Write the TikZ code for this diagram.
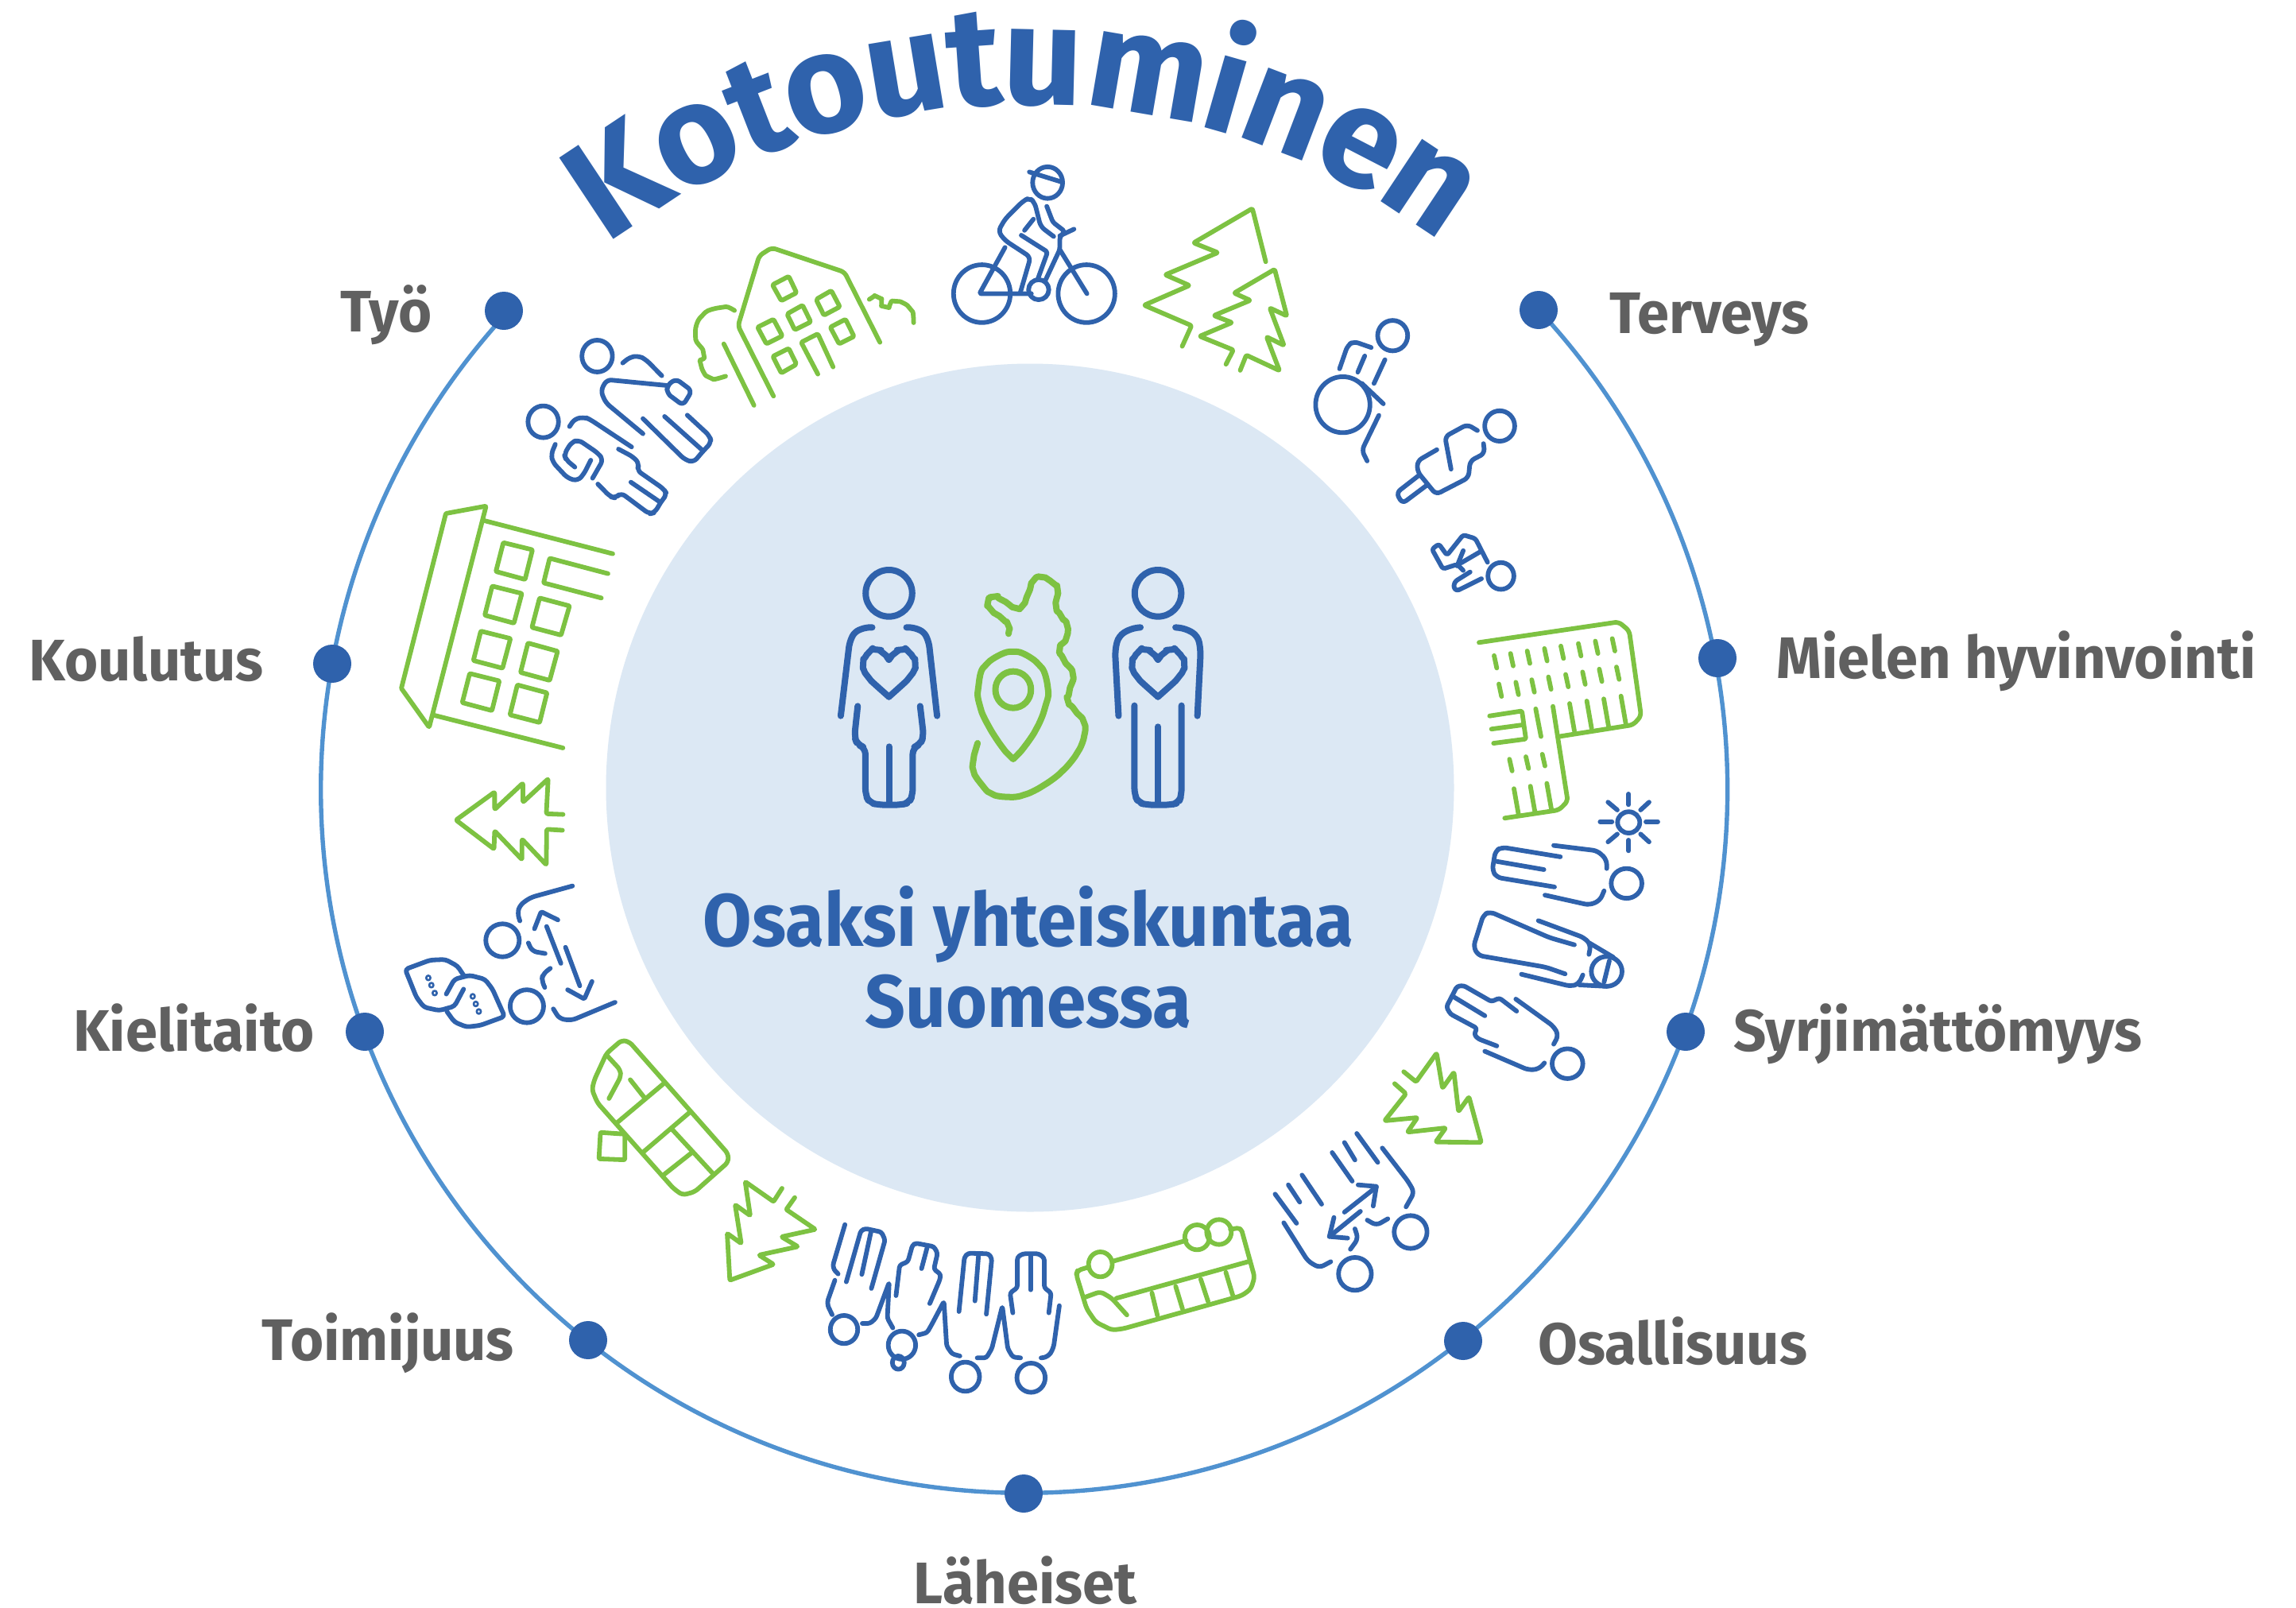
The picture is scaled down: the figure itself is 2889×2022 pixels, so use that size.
\documentclass[tikz,border=0pt]{standalone}
\usepackage{fontspec}
\newfontfamily\lf[FakeStretch=0.98]{Fira Sans}
\newfontfamily\lfc[FakeStretch=0.95]{Fira Sans}
\newfontfamily\lft{Fira Sans}
\definecolor{tblue}{RGB}{47,98,172}
\definecolor{tgreen}{RGB}{125,194,66}
\definecolor{tgray}{RGB}{96,96,96}
\definecolor{tdisc}{RGB}{220,232,244}
\definecolor{tarc}{RGB}{80,146,208}
\tikzset{
  bl/.style={draw=tblue,line width=5.8bp,line cap=round,line join=round,rounded corners=6bp},
  gr/.style={draw=tgreen,line width=5.8bp,line cap=round,line join=round,rounded corners=5bp},
  blc/.style={bl,line width=8bp},
  grc/.style={gr,line width=8bp},
  dot/.style={circle,fill=tblue,inner sep=0pt,minimum size=48bp},
  lab/.style={text=tgray,font=\lf\bfseries\fontsize{74}{80}\selectfont,inner sep=0pt},
  cen/.style={text=tblue,font=\lfc\bfseries\fontsize{94}{100}\selectfont,inner sep=0pt,anchor=base},
  tit/.style={text=tblue,font=\lft\bfseries\fontsize{178}{180}\selectfont,inner sep=0pt,anchor=base},
  za/.style={shift={(480,180)},xscale=0.4464,yscale=0.3333},
  zb/.style={shift={(1160,180)},xscale=0.5102,yscale=0.3827},
  zc/.style={shift={(1780,740)},xscale=0.3333,yscale=0.4464},
  zd/.style={shift={(1000,1300)},xscale=0.5740,yscale=0.3333},
  ze/.style={shift={(480,950)},xscale=0.3827,yscale=0.4146},
  zf/.style={shift={(1020,680)},xscale=0.3444,yscale=0.3333},
  zg/.style={shift={(490,620)},scale=0.3333},
  zh/.style={shift={(900,1470)},scale=0.3333},
}
\newcommand{\ovl}[5]{\draw[#1] (#2,#3) circle[x radius=#4,y radius=#5];}
\begin{document}
\begin{tikzpicture}[x=1bp,y=-1bp]
\useasboundingbox (0,0) rectangle (2889,2022);
\fill[white] (0,0) rectangle (2889,2022);
\fill[tdisc] (1296,991) circle[radius=533.5];
% ring and points
\coordinate (aT) at (1938,392);
\draw[tarc,line width=5.4bp] (aT) arc[start angle=42.8,end angle=-222.6,radius=885bp];
\node[dot] (dTerveys) at (1936,390) {};
\node[dot] (dMielen) at (2161,828) {};
\node[dot] (dSyrj) at (2121,1298) {};
\node[dot] (dOsal) at (1841,1687) {};
\node[dot] (dLah) at (1288,1879) {};
\node[dot] (dToim) at (740,1686) {};
\node[dot] (dKiel) at (459,1298) {};
\node[dot] (dKoul) at (418,835) {};
\node[dot] (dTyo) at (634,391) {};
% labels
\node[lab,anchor=base east] (lTyo) at (544,417) {Työ};
\node[lab,anchor=base west] (lTerveys) at (2025,419) {Terveys};
\node[lab,anchor=base west] (lMielen) at (2235,853) {Mielen hyvinvointi};
\node[lab,anchor=base west] (lSyrj) at (2181,1322) {Syrjimättömyys};
\node[lab,anchor=base west] (lOsal) at (1935,1716) {Osallisuus};
\node[lab,anchor=base] (lLah) at (1290,2017) {Läheiset};
\node[lab,anchor=base east] (lToim) at (647,1711) {Toimijuus};
\node[lab,anchor=base east] (lKiel) at (396,1322) {Kielitaito};
\node[lab,anchor=base east] (lKoul) at (332,856) {Koulutus};
\node[cen] (cA) at (1294,1190) {Osaksi yhteiskuntaa};
\node[cen] (cB) at (1294,1292) {Suomessa};
% title
\foreach \ch/\ang [count=\i] in {K/-33.6,o/-26.8,t/-21.3,o/-15.9,u/-9.4,t/-4,u/1.4,m/9.7,i/16,n/20.9,e/27.3,n/33.6}
  \node[tit,rotate=-\ang] (t\i) at ({1290+869*sin(\ang)},{1000-869*cos(\ang)}) {\ch};
% icons: two people, upper left
\begin{scope}[za]
\ovl{bl}{608}{804}{43}{60}
\draw[bl] (680,830) -- (700,808) -- (725,803) -- (745,817) -- (790,878);
\draw[bl] (805,915) -- (635,893) -- (618,935) -- (632,980) -- (737,1097);
\draw[bl] (805,915) -- (830,890) -- (875,935) -- (850,990) -- (805,945) -- cycle;
\draw[bl] (737,1040) -- (855,1195) -- (880,1205) -- (905,1165) -- (930,1130) -- (925,1105) -- (862,1027);
\draw[bl] (798,1032) -- (905,1160);
\ovl{bl}{456}{1052}{43}{60}
\draw[bl] (530,1070) -- (545,1040) -- (575,1035) -- (590,1045) -- (705,1147);
\draw[bl] (490,1137) -- (478,1175) -- (483,1205) -- (525,1265) -- (553,1275) -- (570,1250) -- (590,1197);
\draw[bl] (545,1223) -- (520,1195) -- (515,1175) -- (535,1130) -- (555,1120) -- (610,1170) -- (625,1195) -- (595,1265);
\draw[bl] (668,1155) -- (710,1185) -- (727,1210) -- (720,1235) -- (795,1305) -- (805,1325) -- (790,1350) -- (770,1395) -- (755,1400) -- (675,1320) -- (660,1340) -- (645,1335) -- (610,1287);
\draw[bl] (703,1280) -- (785,1355);
% house
\draw[gr] (1105,955) -- (1005,690) -- (1065,425) -- (1100,395) -- (1305,487) -- (1405,752);
\draw[gr] (965,758) -- (1050,990);
\draw[gr] plot[smooth,tension=.7] coordinates {(995,632) (960,620) (905,650) (885,725) (908,795) (900,835) (925,885) (970,880)};
\draw[gr] plot[smooth,tension=.7] coordinates {(1375,590) (1400,582) (1420,618) (1450,597) (1490,625) (1500,678)};
\draw[gr,rounded corners=2bp] (1102,535) -- (1148,503) -- (1170,565) -- (1127,595) -- cycle;
\draw[gr,rounded corners=2bp] (1143,645) -- (1187,612) -- (1210,675) -- (1165,705) -- cycle;
\draw[gr,rounded corners=2bp] (1225,590) -- (1268,557) -- (1292,618) -- (1247,650) -- cycle;
\draw[gr,rounded corners=2bp] (1060,695) -- (1105,665) -- (1130,728) -- (1085,758) -- cycle;
\draw[gr,rounded corners=2bp] (1265,695) -- (1308,665) -- (1332,730) -- (1290,758) -- cycle;
\draw[gr,rounded corners=2bp] (1103,805) -- (1148,775) -- (1170,835) -- (1127,868) -- cycle;
\draw[gr,rounded corners=2bp] (1230,872) -- (1183,752) -- (1230,720) -- (1273,845);
\end{scope}
% cyclist, trees, wheelchair, persons
\begin{scope}[zb]
\ovl{bl}{310}{130}{37}{52}
\draw[bl] (265,95) -- (345,128);
\ovl{bl}{148}{495}{70}{95}
\ovl{bl}{406}{495}{70}{95}
\draw[bl] (243,490) -- (268,375) -- (205,320) -- (188,290) -- (205,250) -- (250,190) -- (265,180) -- (278,195) -- (293,275) -- (325,307);
\draw[bl,rounded corners=3bp] (308,208) -- (323,260) -- (352,290) -- (340,310) -- (340,350) -- (305,450);
\draw[bl] (340,305) -- (375,283);
\draw[bl] (340,350) -- (407,495);
\draw[bl] (275,250) -- (253,287);
\draw[bl,rounded corners=3bp] (245,303) -- (310,358) -- (285,450);
\draw[bl,rounded corners=2bp] (205,343) -- (142,495) -- (270,495);
\ovl{bl}{288}{482}{25}{33}
\draw[gr,rounded corners=2bp] (848,390) -- (815,215) -- (670,328) -- (730,360) -- (600,433) -- (660,468) -- (548,533) -- (665,600) -- (642,668);
\draw[gr,rounded corners=2bp] (750,727) -- (768,680) -- (685,635) -- (765,590) -- (720,567) -- (810,517) -- (770,493) -- (870,415) -- (900,568) -- (858,542) -- (893,665) -- (850,637) -- (882,748) -- (800,697) -- (785,747);
\ovl{bl}{1161}{633}{37}{50}
\ovl{bl}{1038}{860}{67}{92}
\draw[bl] (1030,742) -- (1050,665) -- (1065,652) -- (1108,672);
\draw[bl] (1075,753) -- (1092,700);
\draw[bl] (1115,790) -- (1142,712);
\draw[bl] (1085,790) -- (1138,857);
\draw[bl] (1127,895) -- (1085,1010) -- (1098,1045);
\ovl{bl}{1425}{930}{37}{50}
\draw[bl] (1370,945) -- (1345,925) -- (1290,965) -- (1305,1072);
\draw[bl] (1385,988) -- (1388,1020) -- (1352,1045) -- (1348,1100) -- (1268,1155) -- (1222,1080) -- (1222,1045) -- (1270,1008);
\draw[bl] (1228,1090) -- (1170,1150) -- (1185,1185) -- (1245,1125);
\ovl{bl}{1428}{1423}{32}{44}
\draw[bl,rounded corners=3bp] (1395,1378) -- (1365,1300) -- (1335,1288) -- (1295,1355) -- (1275,1318) -- (1258,1335) -- (1285,1400) -- (1320,1385) -- (1335,1405);
\draw[bl] (1375,1345) -- (1330,1380);
\draw[bl] (1320,1390) -- (1335,1340);
\draw[bl] (1352,1410) -- (1310,1445) -- (1315,1475) -- (1380,1432);
\end{scope}
% building, sun, three persons
\begin{scope}[zc]
\draw[gr] (243,153) -- (770,95) -- (810,120) -- (855,360) -- (825,385) -- (545,418);
\draw[gr] (522,333) -- (578,600) -- (545,625) -- (340,648);
\foreach \a/\b in {300/190,362/184,425/177,490/170,552/163,618/156,682/149,746/142} \draw[gr] (\a,\b) -- ++(10,35);
\foreach \a/\b in {318/270,382/265,442/258,505/250,570/243,634/236,697/228,762/222} \draw[gr] (\a,\b) -- ++(10,35);
\foreach \a/\b in {585/325,650/318,714/312,779/304} \draw[gr] (\a,\b) -- ++(18,77);
\draw[gr,rounded corners=2bp] (283,360) -- (405,346) -- (420,425) -- (298,437);
\draw[gr] (290,397) -- (410,385);
\draw[gr] (457,340) -- (477,418);
\foreach \a/\b in {358/482,420/475,482/468} \draw[gr] (\a,\b) -- ++(10,33);
\foreach \a/\b in {375/565,437/558,499/550} \draw[gr] (\a,\b) -- ++(17,72);
\ovl{bl}{808}{660}{42}{30}
\foreach \a/\b/\c/\d in {808/580/808/610,808/710/808/740,700/658/745/658,873/658/918/658,730/603/765/625,885/603/853/625,730/715/765/693,885/715/853/693} \draw[bl] (\a,\b) -- (\c,\d);
\ovl{bl}{800}{832}{58}{42}
\draw[bl] (725,790) -- (725,765) -- (690,740) -- (525,725);
\draw[bl] (715,853) -- (700,880) -- (660,893) -- (492,865);
\draw[bl] (550,757) -- (330,730) -- (305,740) -- (293,795) -- (310,815) -- (528,842);
\draw[bl] (310,770) -- (488,793);
\ovl{bl}{725}{1080}{58}{42}
\draw[bl] (660,1000) -- (750,1040);
\draw[bl] (622,1118) -- (725,1122);
\draw[bl] (735,1050) -- (715,1110);
\draw[bl] (467,937) -- (640,985) -- (665,1005) -- (658,1032);
\draw[bl] (603,1005) -- (510,985) -- (285,912) -- (260,920) -- (222,1010) -- (240,1035) -- (495,1068) -- (568,1087);
\draw[bl] (403,1088) -- (590,1122) -- (620,1115) -- (635,1090);
\ovl{bl}{577}{1340}{58}{42}
\draw[bl] (382,1158) -- (525,1235) -- (543,1260) -- (525,1285);
\draw[bl] (490,1338) -- (470,1355) -- (430,1358) -- (265,1305);
\draw[bl,rounded corners=3bp] (385,1192) -- (320,1155) -- (290,1165) -- (185,1120) -- (160,1122) -- (120,1180) -- (135,1200) -- (235,1240) -- (225,1258) -- (240,1270) -- (310,1290);
\draw[bl] (148,1152) -- (265,1205);
\end{scope}
% bottom row
\begin{scope}[zd]
\draw[gr,rounded corners=2bp] (1315,190) -- (1340,228) -- (1293,330) -- (1365,318) -- (1343,373) -- (1427,357) -- (1405,410) -- (1505,412) -- (1478,240) -- (1455,295) -- (1445,147) -- (1420,207) -- (1407,75) -- (1362,183) -- (1335,145);
\ovl{bl}{1350}{750}{36}{62}
\ovl{bl}{1228}{908}{36}{62}
\draw[bl] (1232,378) -- (1278,487);
\draw[bl] (1205,412) -- (1228,478);
\draw[bl] (1178,450) -- (1222,558);
\draw[bl] (1288,433) -- (1345,560) -- (1358,600) -- (1340,655);
\draw[bl] (1255,705) -- (1275,725) -- (1300,700);
\draw[bl] (1112,535) -- (1155,645);
\draw[bl] (1082,572) -- (1107,637);
\draw[bl] (1053,607) -- (1100,717);
\draw[bl] (1072,715) -- (1125,860) -- (1150,885) -- (1175,862);
\draw[bl] (1228,738) -- (1235,775) -- (1218,815);
\draw[bl,sharp corners] (1205,675) -- (1275,580);
\draw[bl,sharp corners] (1235,572) -- (1275,578) -- (1268,652);
\draw[bl,sharp corners] (1240,672) -- (1172,767);
\draw[bl,sharp corners] (1212,773) -- (1172,767) -- (1182,695);
\ovl{gr}{670}{872}{26}{47}
\ovl{gr}{882}{770}{27}{47}
\ovl{gr}{930}{750}{27}{47}
\draw[gr] (698,860) -- (858,782);
\draw[gr] (955,740) -- (978,733) -- (1008,920) -- (1000,965) -- (980,990) -- (720,1115) -- (695,1120) -- (660,1090) -- (640,1040) -- (617,910) -- (620,895) -- (645,882);
\draw[gr] (998,860) -- (705,1000);
\draw[gr] (638,995) -- (670,975) -- (695,1000) -- (728,1063);
\draw[gr] (783,980) -- (795,1065);
\draw[gr] (835,955) -- (850,1040);
\draw[gr] (890,928) -- (906,1012);
\draw[gr] (945,902) -- (960,988);
\ovl{bl}{108}{1118}{30}{53}
\draw[bl] (110,722) -- (82,885) -- (95,908);
\draw[bl,rounded corners=3bp] (113,938) -- (145,745) -- (155,737) -- (190,750) -- (198,780) -- (168,963);
\draw[bl] (167,750) -- (147,910);
\draw[bl] (88,932) -- (70,1020) -- (82,1062);
\draw[bl,rounded corners=3bp] (148,1095) -- (165,1095) -- (178,1075) -- (207,940) -- (203,1075) -- (215,1112);
\ovl{bl}{235}{1177}{30}{53}
\ovl{bl}{227}{1243}{13}{25}
\draw[bl,rounded corners=3bp] (222,990) -- (230,875) -- (248,862) -- (258,800) -- (265,792) -- (305,805) -- (313,830) -- (305,890) -- (320,910) -- (318,930) -- (296,1020);
\draw[bl] (278,888) -- (290,810);
\draw[bl,rounded corners=3bp] (272,1138) -- (290,1130) -- (300,1100) -- (327,1012) -- (333,1180) -- (345,1210) -- (362,1218);
\ovl{bl}{374}{1296}{31}{55}
\draw[bl,rounded corners=3bp] (360,1050) -- (372,845) -- (380,830) -- (425,832) -- (432,850) -- (420,1060);
\draw[bl] (403,835) -- (395,1010);
\draw[bl,rounded corners=3bp] (400,1225) -- (420,1225) -- (432,1190) -- (455,1030) -- (467,1190) -- (478,1222) -- (495,1225);
\ovl{bl}{518}{1300}{31}{55}
\draw[bl,rounded corners=3bp] (478,1055) -- (472,980) -- (488,960) -- (488,845) -- (500,832) -- (535,832) -- (547,848) -- (547,960) -- (562,980) -- (557,1055);
\draw[bl] (517,835) -- (517,968);
\draw[bl] (580,1028) -- (567,1190) -- (555,1222) -- (540,1225);
\end{scope}
% left lower
\begin{scope}[ze]
\draw[gr,rounded corners=2bp] (597,180) -- (542,178) -- (548,72) -- (465,143) -- (465,85) -- (372,165) -- (372,112) -- (245,197) -- (370,285) -- (372,230) -- (462,317) -- (462,255) -- (542,333) -- (543,225) -- (595,228);
\ovl{bl}{398}{562}{55}{50}
\ovl{bl}{478}{762}{55}{50}
\draw[bl] (628,397) -- (490,432) -- (455,455) -- (447,480) -- (455,503);
\draw[bl,rounded corners=2bp] (580,500) -- (525,475) -- (503,527);
\draw[bl] (543,520) -- (590,632);
\draw[bl] (605,583) -- (652,700);
\draw[bl,rounded corners=2bp] (612,712) -- (667,740) -- (692,687);
\draw[bl] (483,570) -- (495,595) -- (538,602);
\draw[bl] (555,647) -- (530,665) -- (527,685) -- (537,705);
\draw[bl] (565,770) -- (585,800) -- (625,805) -- (768,750);
\draw[bl,rounded corners=4bp] (270,668) -- (250,640) -- (210,620) -- (160,622) -- (78,650) -- (115,735) -- (140,765) -- (190,775) -- (240,762) -- (270,710);
\draw[bl,rounded corners=4bp] (213,725) -- (240,680) -- (290,668) -- (340,680) -- (365,710) -- (405,793) -- (325,820) -- (280,825) -- (240,810) -- (215,778);
\foreach \a/\b in {154/676,164/698,175/722,300/732,310/755,320/778} \draw[bl,line width=2.6bp] (\a,\b) circle[x radius=7,y radius=7];
\draw[gr] (740,905) -- (790,865) -- (815,870) -- (1140,1210) -- (1140,1235) -- (1030,1325) -- (990,1335) -- (960,1315) -- (710,1055) -- (692,1015) -- (700,985) -- cycle;
\draw[gr] (740,910) -- (785,955) -- (787,975) -- (748,1042);
\draw[gr] (818,985) -- (865,1040);
\draw[gr] (775,1115) -- (930,995);
\draw[gr] (860,1205) -- (1012,1085);
\draw[gr] (955,1135) -- (1090,1270);
\draw[gr] (930,1272) -- (1022,1205);
\draw[gr,rounded corners=1bp] (720,1145) -- (800,1150) -- (800,1228) -- (715,1225) -- cycle;
\end{scope}
% large building
\begin{scope}[zg]
\draw[gr,rounded corners=1bp] (150,885) -- (45,738) -- (213,78) -- (365,50) -- cycle;
\draw[gr] (358,105) -- (843,230);
\draw[gr] (170,840) -- (655,963);
\draw[gr,rounded corners=1bp] (430,188) -- (540,215) -- (512,327) -- (402,297) -- cycle;
\draw[gr,rounded corners=1bp] (388,352) -- (500,380) -- (470,492) -- (360,462) -- cycle;
\draw[gr,rounded corners=1bp] (345,522) -- (457,550) -- (427,662) -- (317,633) -- cycle;
\draw[gr,rounded corners=1bp] (303,682) -- (415,710) -- (387,822) -- (275,792) -- cycle;
\draw[gr,rounded corners=1bp] (567,397) -- (680,427) -- (648,537) -- (538,508) -- cycle;
\draw[gr,rounded corners=1bp] (523,567) -- (635,598) -- (605,708) -- (495,678) -- cycle;
\draw[gr,rounded corners=1bp] (483,725) -- (595,755) -- (567,867) -- (455,838) -- cycle;
\draw[gr,rounded corners=1bp] (825,305) -- (605,247) -- (582,340) -- (800,397);
\end{scope}
\begin{scope}[zh]
\draw[gr,rounded corners=1bp] (252,75) -- (220,125) -- (113,50) -- (132,178) -- (75,137) -- (98,283) -- (45,245) -- (55,422) -- (220,362) -- (165,327) -- (312,295) -- (250,258) -- (378,230) -- (268,155) -- (300,110);
\end{scope}
% centre figures
\begin{scope}[zf]
\ovl{blc}{286}{199}{85}{88}
\draw[blc,rounded corners=6bp] (225,328) -- (200,328) -- (160,345) -- (142,385) -- (110,662);
\draw[blc,rounded corners=6bp] (350,328) -- (375,328) -- (415,345) -- (432,385) -- (462,662);
\draw[blc] plot[smooth,tension=.5] coordinates {(286,590) (210,515) (192,465) (215,420) (240,412) (265,425) (286,450)};
\draw[blc] plot[smooth,tension=.5] coordinates {(286,590) (362,515) (382,465) (358,420) (333,412) (308,425) (286,450)};
\draw[blc,rounded corners=8bp] (172,625) -- (160,740) -- (170,770) -- (200,782) -- (200,960) -- (215,990) -- (250,998) -- (330,998) -- (360,990) -- (373,960) -- (373,782) -- (400,770) -- (413,740) -- (400,625);
\draw[blc] (286,778) -- (286,995);
\ovl{blc}{1269}{199}{85}{88}
\draw[blc,rounded corners=8bp] (1205,328) -- (1170,332) -- (1125,360) -- (1112,415) -- (1125,662);
\draw[blc,rounded corners=8bp] (1333,328) -- (1370,332) -- (1415,360) -- (1425,415) -- (1413,662);
\draw[blc] plot[smooth,tension=.5] coordinates {(1269,590) (1193,515) (1175,465) (1198,420) (1223,412) (1248,425) (1269,450)};
\draw[blc] plot[smooth,tension=.5] coordinates {(1269,590) (1345,515) (1365,465) (1341,420) (1316,412) (1291,425) (1269,450)};
\draw[blc,rounded corners=8bp] (1183,623) -- (1183,960) -- (1198,990) -- (1230,998) -- (1315,998) -- (1345,990) -- (1355,960) -- (1355,623);
\draw[blc] (1269,703) -- (1269,995);
\draw[grc] plot[smooth,tension=.6] coordinates {(723,352) (722,320) (700,295) (660,262) (648,232) (670,212) (700,225) (750,255) (775,245) (795,200) (815,150) (845,138) (885,160) (902,185) (897,250) (915,285) (937,320) (935,365) (910,410) (925,450) (958,505) (945,570) (940,605) (965,640) (998,685) (1000,735) (975,800) (920,870) (850,925) (780,960) (720,968) (660,955) (620,915) (595,870) (595,825) (610,765)};
\draw[grc] plot[smooth,tension=.6] coordinates {(740,825) (700,780) (650,700) (620,630) (612,560) (640,470) (740,420) (835,470) (867,560) (855,635) (825,710) (780,780) (740,825)};
\ovl{grc}{740}{563}{65}{69}
\end{scope}
\end{tikzpicture}
\end{document}
